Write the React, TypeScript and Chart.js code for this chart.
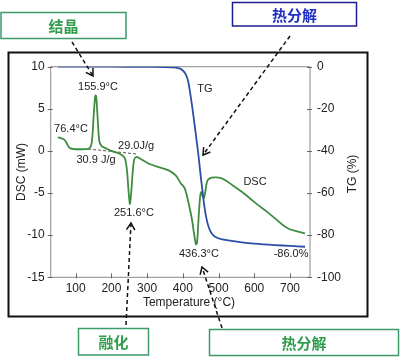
import React, { useEffect, useRef } from "react";
import { Chart, registerables } from "chart.js";
Chart.register(...registerables);

// DSC curve (mW) vs temperature (°C)
const dscTemp = [50, 60, 68, 74, 80, 86, 95, 110, 125, 138, 145, 150, 154, 156, 158, 162, 166, 172, 185, 200, 215, 230, 238, 244, 248, 252, 256, 260, 264, 270, 280, 300, 330, 360, 380, 395, 400, 406, 415, 425, 432, 437, 440, 444, 448, 451, 455, 459, 463, 468, 475, 490, 505, 520, 540, 565, 590, 610, 635, 658, 680, 695, 715, 742];
const dscValue = [1.6, 1.5, 1.35, 1.0, 0.5, 0.3, 0.22, 0.2, 0.22, 0.3, 1.0, 4.0, 6.3, 6.6, 6.2, 3.5, 1.2, 0.6, 0.3, 0.0, -0.2, -0.5, -0.9, -2.5, -4.8, -6.3, -4.6, -2.3, -1.0, -0.7, -0.9, -1.4, -1.9, -2.3, -2.9, -3.9, -4.1, -4.5, -6.0, -8.0, -10.0, -11.1, -10.8, -8.0, -5.6, -4.9, -5.3, -5.6, -4.8, -3.6, -3.25, -3.15, -3.2, -3.5, -4.1, -4.85, -5.7, -6.4, -7.2, -8.0, -8.8, -9.2, -9.5, -9.8];

// TG curve (%) vs temperature (°C)
const tgTemp = [50, 100, 200, 300, 370, 390, 400, 408, 415, 420, 427, 434, 440, 445, 450, 455, 460, 466, 472, 480, 490, 510, 540, 565, 600, 658, 700, 742];
const tgValue = [0, 0, 0, -0.1, -0.3, -0.8, -1.8, -3.5, -7, -12, -20, -29, -37, -44, -52, -59, -66, -72, -76, -79, -80.7, -82, -82.8, -83.4, -84, -84.7, -85.1, -85.5];

// dashed baseline
const baselineTemp = [135, 272];
const baselineValue = [0.23, -0.37];

// axis ticks
const xTicks = [100, 200, 300, 400, 500, 600, 700];
const dscTicks = [10, 5, 0, -5, -10, -15];
const tgTicks = [0, -20, -40, -60, -80, -100];

// in-plot labels: [text, temperature, dsc value]
const plotLabels: [string, number, number][] = [
  ["155.9°C", 162.5, 7.59],
  ["76.4°C", 86.8, 2.6],
  ["29.0J/g", 269, 0.58],
  ["30.9 J/g", 157, -1.04],
  ["251.6°C", 263, -7.38],
  ["TG", 462, 7.35],
  ["DSC", 602, -3.7],
  ["436.3°C", 445, -12.25],
  ["-86.0%", 703, -12.25],
];

const FONT = '"Liberation Sans", Arial, sans-serif';
const CJK = '"Noto Sans CJK SC", sans-serif';
const GREEN_TEXT = "#2f9e4c";
const GREEN_BORDER = "#3c9a6a";
const BLUE_TEXT = "#1f2fc4";
const BLUE_BORDER = "#1c1c90";

function drawArrow(ctx: CanvasRenderingContext2D, x1: number, y1: number, x2: number, y2: number) {
  ctx.save();
  ctx.strokeStyle = "#111";
  ctx.lineWidth = 1.5;
  ctx.setLineDash([4, 3]);
  ctx.beginPath();
  ctx.moveTo(x1, y1);
  ctx.lineTo(x2, y2);
  ctx.stroke();
  ctx.setLineDash([]);
  const a = Math.atan2(y2 - y1, x2 - x1);
  const L = 8, w = 0.55;
  ctx.beginPath();
  ctx.moveTo(x2 - L * Math.cos(a - w), y2 - L * Math.sin(a - w));
  ctx.lineTo(x2, y2);
  ctx.lineTo(x2 - L * Math.cos(a + w), y2 - L * Math.sin(a + w));
  ctx.stroke();
  ctx.restore();
}

function drawBox(ctx: CanvasRenderingContext2D, x: number, y: number, w: number, h: number, text: string, border: string, color: string) {
  ctx.save();
  ctx.fillStyle = "#fff";
  ctx.fillRect(x, y, w, h);
  ctx.strokeStyle = border;
  ctx.lineWidth = 1.5;
  ctx.strokeRect(x, y, w, h);
  ctx.fillStyle = color;
  ctx.font = `bold 15px ${CJK}`;
  ctx.textAlign = "center";
  ctx.textBaseline = "middle";
  ctx.fillText(text, x + w / 2, y + h / 2 + 1);
  ctx.restore();
}

const overlay = {
  id: "overlay",
  beforeDraw(chart: any) {
    const ctx = chart.ctx;
    ctx.save();
    ctx.fillStyle = "#fff";
    ctx.fillRect(0, 0, chart.width, chart.height);
    ctx.restore();
  },
  beforeDatasetsDraw(chart: any) {
    const ctx: CanvasRenderingContext2D = chart.ctx;
    const { left, right, top, bottom } = chart.chartArea;
    ctx.save();
    ctx.strokeStyle = "#8a8a8a";
    ctx.lineWidth = 1;
    ctx.strokeRect(left, top, right - left, bottom - top);
    ctx.strokeStyle = "#666";
    const xs = chart.scales.x, yl = chart.scales.y, yr = chart.scales.y2;
    ctx.beginPath();
    xTicks.forEach((v) => {
      const px = Math.round(xs.getPixelForValue(v)) + 0.5;
      ctx.moveTo(px, bottom - 4);
      ctx.lineTo(px, bottom + 1);
    });
    dscTicks.forEach((v) => {
      const py = Math.round(yl.getPixelForValue(v)) + 0.5;
      ctx.moveTo(left - 3, py);
      ctx.lineTo(left + 2, py);
    });
    tgTicks.forEach((v) => {
      const py = Math.round(yr.getPixelForValue(v)) + 0.5;
      ctx.moveTo(right - 3, py);
      ctx.lineTo(right + 2, py);
    });
    ctx.stroke();
    ctx.restore();
  },
  afterDraw(chart: any) {
    const ctx: CanvasRenderingContext2D = chart.ctx;
    const xs = chart.scales.x, yl = chart.scales.y;
    ctx.save();
    // in-plot labels
    ctx.fillStyle = "#222";
    ctx.font = `11px ${FONT}`;
    ctx.textAlign = "center";
    ctx.textBaseline = "middle";
    plotLabels.forEach(([t, tx, vy]) => {
      ctx.fillText(t, xs.getPixelForValue(tx), yl.getPixelForValue(vy));
    });
    // axis titles
    ctx.font = `12px ${FONT}`;
    ctx.fillText("Temperature (°C)", 189, 303);
    ctx.save();
    ctx.translate(22, 172);
    ctx.rotate(-Math.PI / 2);
    ctx.fillText("DSC (mW)", 0, 0);
    ctx.restore();
    ctx.save();
    ctx.translate(353, 174);
    ctx.rotate(-Math.PI / 2);
    ctx.fillText("TG (%)", 0, 0);
    ctx.restore();
    // outer frame
    ctx.strokeStyle = "#111";
    ctx.lineWidth = 2;
    ctx.strokeRect(8.5, 52.5, 359, 264);
    // arrows
    drawArrow(ctx, 72, 42, 93, 76);
    drawArrow(ctx, 290, 36, 203, 155);
    drawArrow(ctx, 126, 325, 131, 223);
    drawArrow(ctx, 222, 328, 202, 267);
    // boxes
    drawBox(ctx, 1, 12.5, 125, 26, "结晶", GREEN_BORDER, GREEN_TEXT);
    drawBox(ctx, 232.5, 2.5, 124, 23.5, "热分解", BLUE_BORDER, BLUE_TEXT);
    drawBox(ctx, 78.5, 328.5, 70, 26.5, "融化", GREEN_BORDER, GREEN_TEXT);
    drawBox(ctx, 209.5, 329.5, 189, 26, "热分解", GREEN_BORDER, GREEN_TEXT);
    ctx.restore();
  },
};

export default function App() {
  const ref = useRef<HTMLCanvasElement>(null);
  useEffect(() => {
    if (!ref.current) return;
    const tickFont = { family: FONT, size: 12 };
    const chart = new Chart(ref.current, {
      type: "line",
      data: {
        datasets: [
          {
            label: "TG",
            data: tgTemp.map((t, i) => ({ x: t, y: tgValue[i] })),
            yAxisID: "y2",
            borderColor: "#2b4ea6",
            borderWidth: 1.8,
            pointRadius: 0,
            tension: 0.3,
            fill: false,
          },
          {
            label: "DSC",
            data: dscTemp.map((t, i) => ({ x: t, y: dscValue[i] })),
            yAxisID: "y",
            borderColor: "#3f8c41",
            borderWidth: 1.8,
            pointRadius: 0,
            tension: 0.3,
            fill: false,
          },
          {
            label: "baseline",
            data: baselineTemp.map((t, i) => ({ x: t, y: baselineValue[i] })),
            yAxisID: "y",
            borderColor: "#555",
            borderWidth: 1,
            borderDash: [3, 2],
            pointRadius: 0,
            fill: false,
          },
        ],
      },
      options: {
        responsive: false,
        animation: false,
        layout: { padding: { top: 66.7, left: 0, right: 0, bottom: 0 } },
        plugins: { legend: { display: false }, tooltip: { enabled: false } },
        scales: {
          x: {
            type: "linear",
            min: 30,
            max: 756,
            grid: { display: false, drawTicks: false },
            border: { display: false },
            ticks: { font: tickFont, color: "#222", padding: 4, maxRotation: 0 },
            afterBuildTicks: (s: any) => { s.ticks = xTicks.map((v) => ({ value: v })); },
            afterFit: (s: any) => { s.height = 82.7; },
          },
          y: {
            type: "linear",
            position: "left",
            min: -15,
            max: 10,
            grid: { display: false, drawTicks: false },
            border: { display: false },
            ticks: { font: tickFont, color: "#222", padding: 6 },
            afterBuildTicks: (s: any) => { s.ticks = dscTicks.map((v) => ({ value: v })); },
            afterFit: (s: any) => { s.width = 50.7; },
          },
          y2: {
            type: "linear",
            position: "right",
            min: -100,
            max: 0,
            grid: { display: false, drawTicks: false },
            border: { display: false },
            ticks: { font: tickFont, color: "#222", padding: 7 },
            afterBuildTicks: (s: any) => { s.ticks = tgTicks.map((v) => ({ value: v })); },
            afterFit: (s: any) => { s.width = 90; },
          },
        },
      },
      plugins: [overlay],
    } as any);
    return () => chart.destroy();
  }, []);
  return (
    <div style={{ position: "fixed", left: 0, top: 0, width: 400, height: 360 }}>
      <canvas ref={ref} width={400} height={360} style={{ display: "block", width: 400, height: 360 }} />
    </div>
  );
}
